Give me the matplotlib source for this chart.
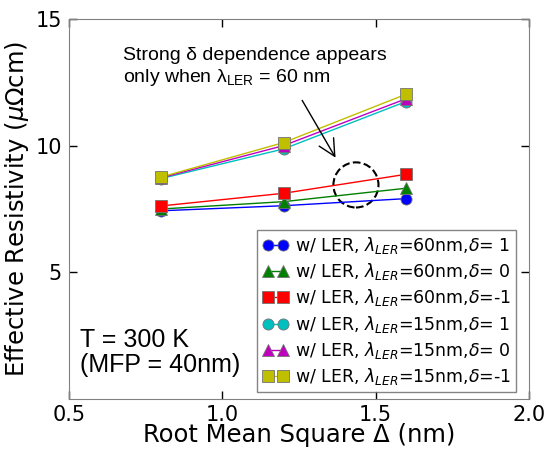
import matplotlib
matplotlib.use("Agg")
from matplotlib import pyplot as plt
from matplotlib.patches import Ellipse

# data
rms = [0.8, 1.2, 1.6]
rho_60_p1 = [7.43, 7.63, 7.91]
rho_60_0 = [7.50, 7.79, 8.32]
rho_60_m1 = [7.62, 8.12, 8.87]
rho_15_p1 = [8.70, 9.87, 11.74]
rho_15_0 = [8.73, 10.00, 11.85]
rho_15_m1 = [8.76, 10.12, 12.03]

labels = [r"w/ LER, $\lambda_{LER}$=60nm,$\delta$= 1",
          r"w/ LER, $\lambda_{LER}$=60nm,$\delta$= 0",
          r"w/ LER, $\lambda_{LER}$=60nm,$\delta$=-1",
          r"w/ LER, $\lambda_{LER}$=15nm,$\delta$= 1",
          r"w/ LER, $\lambda_{LER}$=15nm,$\delta$= 0",
          r"w/ LER, $\lambda_{LER}$=15nm,$\delta$=-1"]
series = [rho_60_p1, rho_60_0, rho_60_m1, rho_15_p1, rho_15_0, rho_15_m1]
colors = ["#0000ff", "#008000", "#ff0000", "#00bfbf", "#bf00bf", "#bfbf00"]
markers = ["o", "^", "s", "o", "^", "s"]

fig = plt.figure(figsize=(5.48, 4.49), dpi=100)
ax = fig.add_axes([0.126, 0.111, 0.839, 0.847])

for y, c, m, lab in zip(series, colors, markers, labels):
    ax.plot(rms, y, color=c, marker=m, markersize=8, lw=1,
            markeredgecolor="0.45", markeredgewidth=0.6, label=lab)

ax.set_xlim(0.5, 2.0)
ax.set_ylim(0, 15)
ax.set_xticks([0.5, 1.0, 1.5, 2.0])
ax.set_yticks([5, 10, 15])
ax.tick_params(direction="in", length=5.5, width=1, labelsize=15,
               top=True, right=True, pad=5)
ax.tick_params(axis="x", pad=4)
for sp in ax.spines.values():
    sp.set_color("0.5")

ax.set_xlabel("Root Mean Square \u0394 (nm)", fontsize=17.5, labelpad=-1)
ax.set_ylabel(r"Effective Resistivity ($\mu\Omega$cm)", fontsize=17.5, labelpad=3)

leg = ax.legend(loc="lower right", bbox_to_anchor=(0.972, 0.018), borderaxespad=0,
                numpoints=2, handlelength=1.45, handletextpad=0.4,
                fontsize=12.5, labelspacing=0.3, fancybox=False,
                borderpad=0.3)
leg.get_frame().set_edgecolor("0.4")

ax.text(0.536, 1.07, "T = 300 K\n(MFP = 40nm)", fontsize=18,
        family="Liberation Sans", linespacing=1.05)

ax.text(0.676, 12.51, "Strong \u03b4 dependence appears\nonly when \u03bb$_\\mathregular{LER}$ = 60 nm",
        fontsize=14, family="Liberation Sans", linespacing=1.2)
ax.annotate("", xy=(1.374, 9.43), xytext=(1.256, 11.88),
            arrowprops=dict(arrowstyle="->", color="k", lw=1,
                            mutation_scale=30))
ax.add_patch(Ellipse((1.436, 8.45), 0.147, 1.78, fill=False, ls="--",
                     lw=1.5, ec="k"))

fig.savefig("out.png", dpi=100)
